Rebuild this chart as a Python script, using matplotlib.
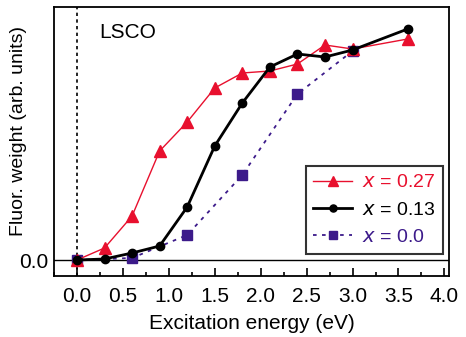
import matplotlib
matplotlib.use("Agg")
import matplotlib.pyplot as plt
from matplotlib.ticker import MultipleLocator

plt.rcParams["font.family"] = ["Liberation Sans", "DejaVu Sans"]

# Fluorescence weight (arb. units)
energy_x027 = [0.0, 0.3, 0.6, 0.9, 1.2, 1.5, 1.8, 2.1, 2.4, 2.7, 3.0, 3.6]
weight_x027 = [0.0, 1.2, 4.4, 10.9, 13.8, 17.2, 18.7, 18.9, 19.6, 21.5, 21.1, 22.1]

energy_x013 = [0.0, 0.3, 0.6, 0.9, 1.2, 1.5, 1.8, 2.1, 2.4, 2.7, 3.0, 3.6]
weight_x013 = [0.0, 0.1, 0.7, 1.4, 5.3, 11.4, 15.7, 19.3, 20.6, 20.3, 21.0, 23.1]

energy_x000 = [0.0, 0.6, 1.2, 1.8, 2.4, 3.0]
weight_x000 = [0.0, 0.2, 2.5, 8.5, 16.6, 20.9]

labels = ["0.27", "0.13", "0.0"]
red = "#e8102e"
purple = "#3c1a8a"

fig = plt.figure(figsize=(4.66, 3.37), dpi=100)
ax = fig.add_axes([54 / 466, 1 - 276 / 337, 395 / 466, 269 / 337])

ax.axvline(0, color="black", linestyle=(0, (2, 2)), linewidth=1.2, zorder=1)
ax.axhline(0, color="black", linewidth=1.0, zorder=1)

ax.plot(energy_x027, weight_x027, color=red, linewidth=1.0, marker="^",
        markersize=8, label=f"$x$ = {labels[0]}", zorder=3)
ax.plot(energy_x013, weight_x013, color="black", linewidth=2.0, marker="o",
        markersize=6, label=f"$x$ = {labels[1]}", zorder=4)
ax.plot(energy_x000, weight_x000, color=purple, linewidth=1.3,
        linestyle=(0, (2, 3)), marker="s", markersize=7.5,
        label=f"$x$ = {labels[2]}", zorder=2)

ax.set_xlim(-0.25, 4.05)
ax.set_ylim(-1.6, 25.3)
ax.xaxis.set_major_locator(MultipleLocator(0.5))
ax.xaxis.set_minor_locator(MultipleLocator(0.25))
ax.set_xticks([0, 0.5, 1.0, 1.5, 2.0, 2.5, 3.0, 3.5, 4.0])
ax.set_xticklabels(["0.0", "0.5", "1.0", "1.5", "2.0", "2.5", "3.0", "3.5", "4.0"])
ax.set_yticks([0])
ax.set_yticklabels(["0.0"])
ax.tick_params(axis="x", which="major", direction="in", length=6, width=1.2,
               labelsize=15, pad=8)
ax.tick_params(axis="x", which="minor", direction="in", length=3, width=1.2)
ax.tick_params(axis="y", direction="in", length=0, labelsize=15, pad=4)
for spine in ax.spines.values():
    spine.set_linewidth(1.3)

ax.set_xlabel("Excitation energy (eV)", fontsize=15, labelpad=6)
ax.set_ylabel("Fluor. weight (arb. units)", fontsize=14)
ax.yaxis.set_label_coords(-0.068, 0.54)
ax.text(0.115, 0.885, "LSCO", transform=ax.transAxes, fontsize=15)

leg = ax.legend(loc="lower right", fontsize=14, frameon=True, fancybox=False,
                handlelength=2.0, handletextpad=0.5, borderpad=0.4,
                labelspacing=0.5, borderaxespad=0, markerscale=0.85,
                bbox_to_anchor=(0.985, 0.082))
leg.get_frame().set_edgecolor("black")
leg.get_frame().set_linewidth(1.5)
for text, color in zip(leg.get_texts(), [red, "black", purple]):
    text.set_color(color)

fig.savefig("out.png", dpi=100)
